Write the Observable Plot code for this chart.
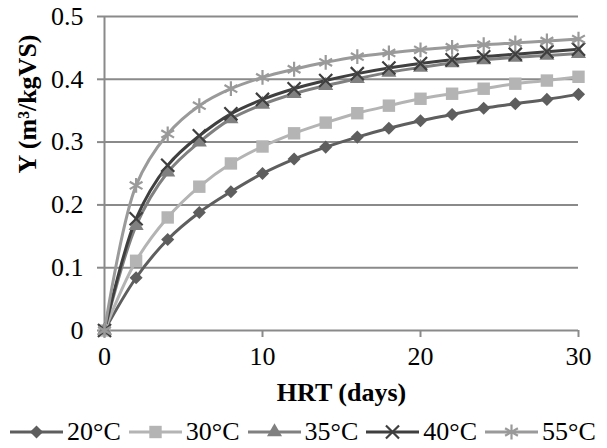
<!DOCTYPE html>
<html><head><meta charset="utf-8">
<script src="https://cdn.jsdelivr.net/npm/d3@7"></script>
<script src="https://cdn.jsdelivr.net/npm/@observablehq/plot@0.6"></script>
<style>
body{margin:0;background:#fff;font-family:'Liberation Serif',serif;}
#legend{display:flex;align-items:center;height:32px;padding-left:10px;font-size:26px;color:#000;font-family:'Liberation Serif',serif;}
#legend .item{display:flex;align-items:center;margin-right:8px;}
#legend svg{margin-right:4px;}
svg text{font-family:'Liberation Serif',serif;}
</style>
</head><body>
<div id="chart"></div>
<div id="legend"></div>
<script>
const hrt = [0,2,4,6,8,10,12,14,16,18,20,22,24,26,28,30];
const y20 = [0,0.084,0.145,0.188,0.221,0.250,0.273,0.292,0.308,0.322,0.334,0.344,0.354,0.361,0.368,0.376];
const y30 = [0,0.111,0.180,0.229,0.266,0.293,0.314,0.331,0.346,0.358,0.369,0.377,0.385,0.393,0.398,0.404];
const y35 = [0,0.167,0.252,0.300,0.337,0.360,0.377,0.390,0.401,0.411,0.419,0.426,0.431,0.435,0.438,0.441];
const y40 = [0,0.178,0.263,0.310,0.345,0.368,0.385,0.398,0.409,0.418,0.425,0.431,0.436,0.440,0.444,0.448];
const y55 = [0,0.231,0.313,0.358,0.385,0.403,0.416,0.427,0.436,0.442,0.447,0.451,0.455,0.458,0.461,0.464];
const seriesNames = ["20°C","30°C","35°C","40°C","55°C"];
const seriesValues = [y20,y30,y35,y40,y55];
const colors = ["#5e5e5e","#b4b4b4","#808080","#3f3f3f","#9a9a9a"];
const symbols = ["diamond2","square","triangle","times","asterisk"];
const filled = [true,true,true,false,false];
const radii = [5.9,7,5.6,6,7];
const xTicks = [0,10,20,30];
const yTicks = [0,0.1,0.2,0.3,0.4,0.5];
const yTickLabels = ["0","0.1","0.2","0.3","0.4","0.5"];
const xLabel = "HRT (days)";
const yLabel = "Y (m³/kgVS)";

const FONT = "'Liberation Serif',serif";
const gridColor = "#8a8a8a";
const marks = [
  Plot.ruleY(yTicks.filter(d => d > 0), {stroke: gridColor, strokeWidth: 2}),
  Plot.ruleX([0], {stroke: gridColor, strokeWidth: 2}),
  Plot.ruleY([0], {stroke: gridColor, strokeWidth: 2}),
];
seriesValues.forEach((vals, i) => {
  const data = hrt.map((x, j) => ({x, y: vals[j]}));
  marks.push(Plot.line(data, {x: "x", y: "y", stroke: colors[i], strokeWidth: 3, curve: "catmull-rom"}));
});
seriesValues.forEach((vals, i) => {
  const data = hrt.map((x, j) => ({x, y: vals[j]}));
  marks.push(Plot.dot(data, filled[i]
    ? {x: "x", y: "y", symbol: () => symbols[i], fill: colors[i], stroke: "none", r: radii[i]}
    : {x: "x", y: "y", symbol: () => symbols[i], fill: "none", stroke: colors[i], strokeWidth: 2.2, r: radii[i]}));
});
marks.push(Plot.text([xLabel], {frameAnchor: "bottom", dy: 70, fontWeight: "bold", fontSize: 26, fill: "#000", fontFamily: FONT}));
marks.push(Plot.text([yLabel], {frameAnchor: "left", dx: -77, rotate: -90, fontWeight: "bold", fontSize: 26, fill: "#000", fontFamily: FONT}));

const chart = Plot.plot({
  width: 607, height: 416,
  marginLeft: 104, marginRight: 29, marginTop: 16, marginBottom: 86,
  style: {fontFamily: FONT, fontSize: "26px", color: "#000", background: "#fff"},
  x: {domain: [0, 30], label: null},
  y: {domain: [0, 0.5], label: null},
  symbol: {type: "identity"},
  marks: [
    Plot.axisX({ticks: xTicks, tickSize: 7, tickPadding: 9, stroke: gridColor, strokeWidth: 2, label: null, fontSize: 26, fontFamily: FONT, tickFormat: d => String(d)}),
    Plot.axisY({ticks: yTicks, tickSize: 7, tickPadding: 14, stroke: gridColor, strokeWidth: 2, label: null, fontSize: 26, fontFamily: FONT, tickFormat: d => yTickLabels[yTicks.indexOf(d)]}),
    ...marks
  ]
});
document.getElementById("chart").appendChild(chart);

// legend
const legend = d3.select("#legend");
const symMap = {diamond2: d3.symbolDiamond2, square: d3.symbolSquare, triangle: d3.symbolTriangle, times: d3.symbolTimes, asterisk: d3.symbolAsterisk};
seriesNames.forEach((name, i) => {
  const item = legend.append("div").attr("class", "item");
  const svg = item.append("svg").attr("width", 53).attr("height", 20);
  svg.append("line").attr("x1", 0).attr("x2", 53).attr("y1", 10).attr("y2", 10)
    .attr("stroke", colors[i]).attr("stroke-width", 3);
  const r = radii[i];
  const p = svg.append("path").attr("transform", "translate(26.5,10)")
    .attr("d", d3.symbol(symMap[symbols[i]], Math.PI * r * r)());
  if (filled[i]) p.attr("fill", colors[i]);
  else p.attr("fill", "none").attr("stroke", colors[i]).attr("stroke-width", 2.2);
  item.append("span").text(name);
});
</script>
</body></html>
